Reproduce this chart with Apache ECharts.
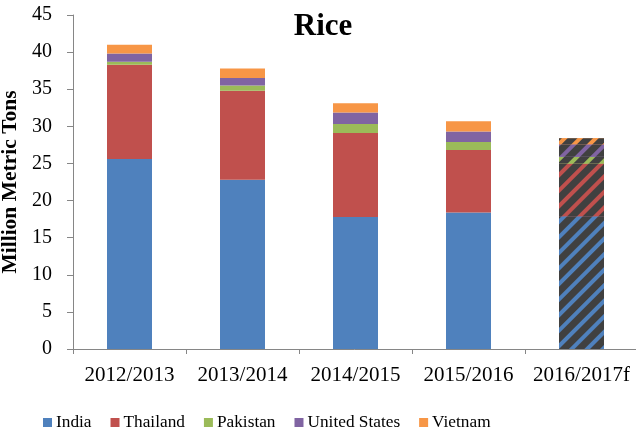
<!DOCTYPE html>
<html>
<head>
<meta charset="utf-8">
<script src="https://cdn.jsdelivr.net/npm/echarts@6/dist/echarts.min.js"></script>
<style>html,body{margin:0;padding:0;background:#fff}#c{width:636px;height:431px}</style>
</head>
<body>
<div id="c"></div>
<script>
const categories = ['2012/2013', '2013/2014', '2014/2015', '2015/2016', '2016/2017f'];
const india = [25.6, 22.8, 17.8, 18.4, 17.9];
const thailand = [12.7, 12.0, 11.3, 8.4, 7.1];
const pakistan = [0.4, 0.7, 1.2, 1.1, 0.9];
const unitedStates = [1.1, 1.0, 1.55, 1.4, 1.7];
const vietnam = [1.2, 1.3, 1.25, 1.4, 0.8];
const yTicks = [0, 5, 10, 15, 20, 25, 30, 35, 40, 45];

const seriesDefs = [
  ['India', india, '#4f81bd'],
  ['Thailand', thailand, '#c0504d'],
  ['Pakistan', pakistan, '#9bbb59'],
  ['United States', unitedStates, '#8064a2'],
  ['Vietnam', vietnam, '#f79646']
];
const serif = '"Liberation Serif", "DejaVu Serif", serif';

const chart = echarts.init(document.getElementById('c'));
chart.setOption({
  animation: false,
  title: {
    text: 'Rice', left: 318, top: 6, textAlign: 'center',
    textStyle: {fontFamily: serif, fontWeight: 'bold', fontSize: 31, color: '#000'}
  },
  legend: {
    top: 409, left: 38, itemWidth: 9, itemHeight: 9, itemGap: 19,
    icon: 'rect',
    textStyle: {fontFamily: serif, fontSize: 17.3, color: '#000', padding: [0, 0, 0, -1]}
  },
  grid: {left: 73, top: 15, width: 565, height: 334, containLabel: false, outerBoundsMode: 'none'},
  xAxis: {
    type: 'category', data: categories,
    axisLine: {lineStyle: {color: '#868686'}},
    axisTick: {show: true, length: 5, lineStyle: {color: '#868686'}},
    axisLabel: {fontFamily: serif, fontSize: 21, color: '#000', margin: 16, interval: 0, hideOverlap: false}
  },
  yAxis: {
    type: 'value', min: 0, max: 45, interval: 5,
    name: 'Million Metric Tons', nameLocation: 'middle', nameGap: 45,
    nameTextStyle: {fontFamily: serif, fontWeight: 'bold', fontSize: 21.5, color: '#000'},
    axisLine: {show: true, lineStyle: {color: '#868686'}},
    axisTick: {show: true, length: 6, lineStyle: {color: '#868686'}},
    splitLine: {show: false},
    axisLabel: {fontFamily: serif, fontSize: 20, color: '#000', margin: 21,
      formatter: v => yTicks.includes(v) ? String(v) : ''}
  },
  series: seriesDefs.map(([name, vals, color]) => ({
    name, type: 'bar', stack: 'total', barWidth: 45,
    itemStyle: {color},
    data: vals.map((v, i) => i === vals.length - 1 ? {
      value: v,
      itemStyle: {
        color,
        decal: {
          symbol: 'rect', color: color, backgroundColor: '#404040',
          dashArrayX: [1, 0], dashArrayY: [4, 6.5], rotation: -Math.PI / 4
        }
      }
    } : v)
  }))
});
</script>
</body>
</html>
